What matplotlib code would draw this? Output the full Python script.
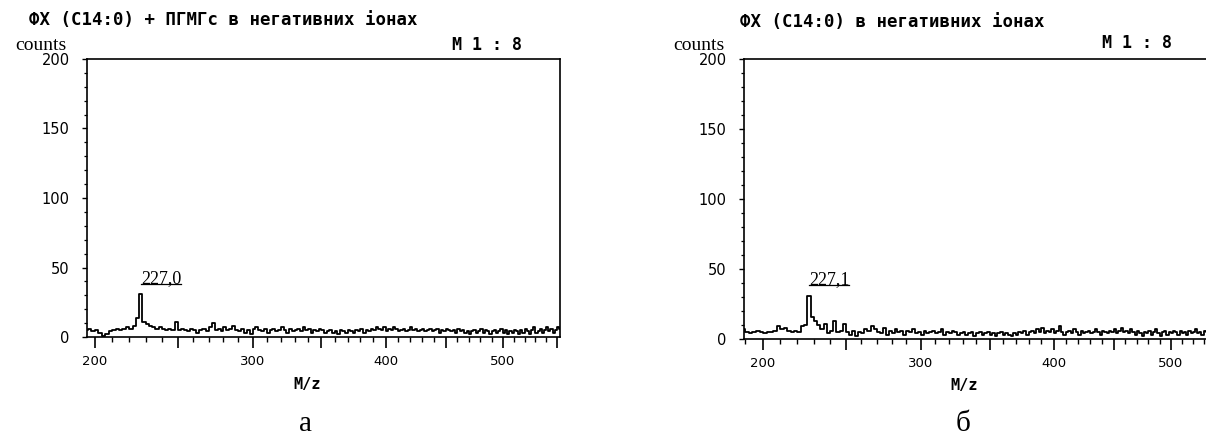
import matplotlib
matplotlib.use('Agg')
import matplotlib.pyplot as plt
import numpy as np
from matplotlib.ticker import FixedLocator, MultipleLocator, FuncFormatter
from matplotlib.lines import Line2D

# spectrum a: ФХ (C14:0) + ПГМГс, m/z 195..553 step 2
mz_a = np.arange(195, 555, 2)
counts_a = [
    5, 6, 4, 5, 3, 1, 2, 4, 5, 6,
    5, 6, 7, 6, 8, 14, 31, 11, 9, 8,
    7, 6, 7, 6, 5, 6, 5, 11, 5, 6,
    5, 4, 6, 5, 3, 5, 6, 4, 7, 10,
    5, 6, 4, 7, 5, 6, 8, 5, 4, 6,
    3, 5, 2, 6, 7, 5, 4, 6, 3, 5,
    6, 4, 5, 7, 5, 3, 6, 4, 5, 6,
    4, 7, 5, 6, 3, 5, 4, 6, 5, 3,
    4, 5, 3, 4, 2, 5, 4, 3, 5, 4,
    3, 5, 4, 6, 3, 5, 4, 6, 5, 7,
    6, 5, 7, 4, 6, 5, 7, 6, 4, 5,
    6, 4, 5, 7, 5, 6, 4, 5, 6, 4,
    5, 6, 4, 5, 6, 3, 5, 4, 6, 5,
    4, 5, 3, 6, 4, 5, 3, 4, 2, 4,
    5, 3, 4, 6, 3, 5, 4, 2, 4, 5,
    3, 4, 6, 3, 5, 2, 4, 3, 5, 4,
    2, 5, 3, 6, 4, 2, 5, 7, 3, 4,
    6, 3, 5, 7, 4, 6, 3, 5, 7, 6,
]

# spectrum б: ФХ (C14:0), m/z 189..533 step 2
mz_b = np.arange(189, 535, 2)
counts_b = [
    7, 5, 4, 5, 6, 5, 4, 5, 5, 6,
    9, 7, 8, 6, 5, 6, 5, 9, 10, 31,
    16, 13, 10, 7, 11, 4, 6, 13, 5, 6,
    11, 5, 3, 6, 2, 5, 4, 7, 6, 9,
    7, 5, 4, 8, 3, 6, 4, 7, 5, 6,
    3, 6, 5, 7, 4, 5, 3, 6, 4, 5,
    6, 4, 5, 7, 3, 5, 4, 6, 5, 3,
    4, 5, 3, 4, 5, 2, 4, 5, 3, 4,
    5, 3, 4, 2, 4, 5, 3, 4, 3, 2,
    4, 3, 5, 4, 6, 3, 5, 6, 4, 7,
    5, 8, 4, 6, 5, 7, 4, 6, 9, 5,
    3, 5, 6, 4, 7, 5, 3, 6, 4, 5,
    6, 4, 5, 7, 5, 3, 6, 5, 4, 6,
    5, 7, 4, 6, 8, 5, 6, 4, 7, 5,
    3, 6, 4, 2, 5, 4, 6, 3, 5, 7,
    4, 2, 5, 6, 3, 5, 4, 6, 5, 3,
    6, 4, 5, 3, 6, 4, 5, 7, 4, 5,
    3, 6, 5,
]

titles = ['ФХ (C14:0) + ПГМГс в негативних іонах', 'ФХ (C14:0) в негативних іонах']
peak_mz = [227, 227]
peak_labels = ['227,0', '227,1']
captions = ['а', 'б']

W, H = 1206, 437
fig = plt.figure(figsize=(W / 100, H / 100), dpi=100)

mono = 'DejaVu Sans Mono'
serif = 'Liberation Serif'

# axes boxes in pixels: left, top, right, bottom
boxes = [(87, 59, 560, 337), (744, 59, 1206, 339)]
xlims = [(195.5, 553), (189.3, 532.3)]
xlabel_x = [307, 964]
title_pos = [(29, 20), (740, 22)]
m_pos = [(522, 45), (1172, 43)]
cap_pos = [(305, 431), (963, 431)]

fwd = lambda x: np.sqrt(np.clip(x, 0, None))
inv = lambda x: np.square(x)

labels = []
for i, (mz, cnt) in enumerate([(mz_a, counts_a), (mz_b, counts_b)]):
    l, t, r, b = boxes[i]
    ax = fig.add_axes([l / W, 1 - b / H, (r - l) / W, (b - t) / H])
    ax.step(mz, cnt, where='mid', color='black', lw=1.3)
    ax.set_xscale('function', functions=(fwd, inv))
    ax.set_xlim(*xlims[i])
    ax.set_ylim(0, 200)

    ax.xaxis.set_major_locator(FixedLocator(np.arange(200, 551, 50)))
    ax.xaxis.set_minor_locator(FixedLocator(np.arange(190, 560, 10)))
    ax.xaxis.set_major_formatter(FuncFormatter(lambda v, p: '%d' % v if v % 100 == 0 else ''))
    ax.yaxis.set_major_locator(MultipleLocator(50))
    ax.yaxis.set_minor_locator(MultipleLocator(10))

    ax.tick_params(axis='x', which='major', direction='out', length=8, width=1.2, pad=5,
                   labelsize=9.5)
    ax.tick_params(axis='x', which='minor', direction='out', length=3.5, width=1.0)
    ax.tick_params(axis='y', which='major', direction='out', length=3.5, width=1.0, pad=9,
                   labelsize=10.5)
    ax.tick_params(axis='y', which='minor', direction='out', length=2.5, width=0.9)
    for s in ax.spines.values():
        s.set_linewidth(1.2)
    if i == 1:
        ax.spines['right'].set_visible(False)

    ax.set_xlabel('M/z', fontfamily=mono, fontweight='bold', fontsize=11, va='center')
    ax.xaxis.set_label_coords((xlabel_x[i] - l) / (r - l), -47 / (b - t))

    ax.annotate('counts', xy=(0, 1), xycoords='axes fraction', xytext=(-20, 14),
                textcoords='offset pixels', ha='right', va='center',
                fontfamily=serif, fontsize=14)

    txt = ax.text(peak_mz[i], 39, peak_labels[i], ha='left', va='baseline',
                  fontfamily=serif, fontsize=13)
    labels.append(txt)

    fig.text(title_pos[i][0] / W, 1 - title_pos[i][1] / H, titles[i], ha='left', va='center',
             fontfamily=mono, fontweight='bold', fontsize=12.5)
    fig.text(m_pos[i][0] / W, 1 - m_pos[i][1] / H, 'M 1 : 8', ha='right', va='center',
             fontfamily=mono, fontweight='bold', fontsize=12)
    fig.text(cap_pos[i][0] / W, 1 - cap_pos[i][1] / H, captions[i], ha='center', va='baseline',
             fontfamily=serif, fontsize=21)

# underline the peak labels
fig.canvas.draw()
rend = fig.canvas.get_renderer()
for txt in labels:
    bb = txt.get_window_extent(rend)
    y = (bb.y0 + 3) / H
    fig.add_artist(Line2D([bb.x0 / W, bb.x1 / W], [y, y], color='black', lw=0.9,
                          transform=fig.transFigure))

fig.savefig('out.png', dpi=100, facecolor='white')
